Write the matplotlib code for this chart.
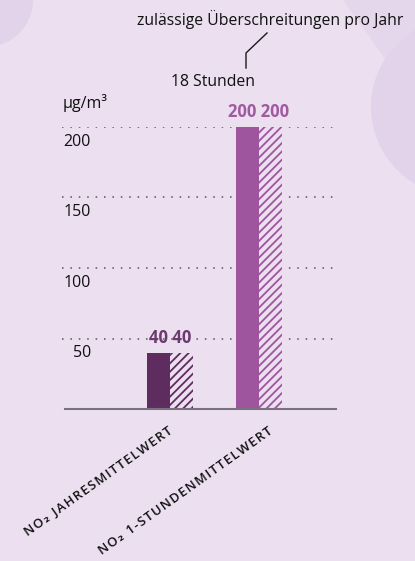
import matplotlib.pyplot as plt
from matplotlib.patches import Polygon, Ellipse

# ---------- Daten ----------
kategorien = ["NO₂ JAHRESMITTELWERT", "NO₂ 1-STUNDENMITTELWERT"]
werte = [40, 200]
grenzwerte = [40, 200]
yticks = [50, 100, 150, 200]

bg = "#ebdff0"
farben = ["#5e2c5e", "#9e559e"]
text_farben = ["#6b3a6e", "#a05aa0"]

plt.rcParams["font.family"] = ["Open Sans", "DejaVu Sans"]
plt.rcParams["hatch.linewidth"] = 1.3

fig = plt.figure(figsize=(4.15, 5.61), dpi=100)
fig.patch.set_facecolor(bg)

# ---------- Hintergrund-Deko ----------
W, H = 415, 561
def px(x, y):
    return (x / W, 1 - y / H)

deko = "#e3d3ea"
fig.patches.append(Ellipse(px(-14, 0), 2 * 47 / W, 2 * 47 / H,
                           transform=fig.transFigure,
                           facecolor=deko, edgecolor="none", zorder=0))
fig.patches.append(Polygon([px(343, 0), px(415, 0), px(415, 90), px(386, 60)],
                           closed=True, transform=fig.transFigure,
                           facecolor="#e5d7eb", edgecolor="none", zorder=0))
fig.patches.append(Ellipse(px(460, 107), 2 * 89 / W, 2 * 89 / H,
                           transform=fig.transFigure,
                           facecolor=deko, edgecolor="none", zorder=0))

# ---------- Achse ----------
ax = fig.add_axes([62 / W, (H - 409) / H, 274 / W, 282 / H])
ax.set_facecolor("none")
ax.set_xlim(-1.213, 1.865)
ax.set_ylim(0, 200)
for s in ax.spines.values():
    s.set_visible(False)
ax.set_xticks([])
ax.set_yticks([])

# Gitterlinien (gepunktet)
for t in yticks:
    ax.axhline(t, color="#555555", lw=1.1, ls=(0, (1, 4.5)), zorder=1)
    ax.annotate(str(t), xy=(0.105, t), xycoords=("axes fraction", "data"),
                xytext=(0, -5), textcoords="offset points",
                ha="right", va="top", fontsize=11.5, color="#111111")
ax.axhline(0, xmin=3 / 274, xmax=1, color="#7a7280", lw=1.5,
           clip_on=False, zorder=3)

# Balken
bw = 0.258
for i, (w, g) in enumerate(zip(werte, grenzwerte)):
    ax.bar(i - bw / 2, w, width=bw, color=farben[i], zorder=2)
    ax.bar(i + bw / 2, g, width=bw, facecolor=bg, edgecolor=farben[i],
           hatch="////", linewidth=0, zorder=2)
    ax.text(i, max(w, g) + 4, f"{w} {g}", ha="center", va="bottom",
            fontsize=12, fontweight="bold", color=text_farben[i])

# Kategorie-Beschriftungen (schräg, gesperrt)
versatz = [-2, 6]  # Punkte nach rechts
for i, k in enumerate(kategorien):
    gesperrt = "\u200a".join(k)
    ax.annotate(gesperrt, xy=(i, 0), xycoords="data",
                xytext=(versatz[i], -11), textcoords="offset points",
                ha="right", va="top", rotation=35.5, rotation_mode="anchor",
                fontsize=9.4, fontweight=600, color="#111111")

# Einheit
fig.text(63 / W, 1 - 103 / H, "µg/m³", ha="left", va="center",
         fontsize=11.5, color="#111111")

# Anmerkung oben
fig.text(270 / W, 1 - 20 / H, "zulässige Überschreitungen pro Jahr",
         ha="center", va="center", fontsize=11.3, color="#111111")
fig.text(213 / W, 1 - 82 / H, "18 Stunden", ha="center", va="center",
         fontsize=11.3, color="#111111")
fig.add_artist(plt.Line2D([267 / W, 246 / W, 246 / W],
                          [1 - 33 / H, 1 - 53 / H, 1 - 68 / H],
                          transform=fig.transFigure, color="#1a1a1a", lw=1))

fig.savefig("out.png", dpi=100, facecolor=bg)
